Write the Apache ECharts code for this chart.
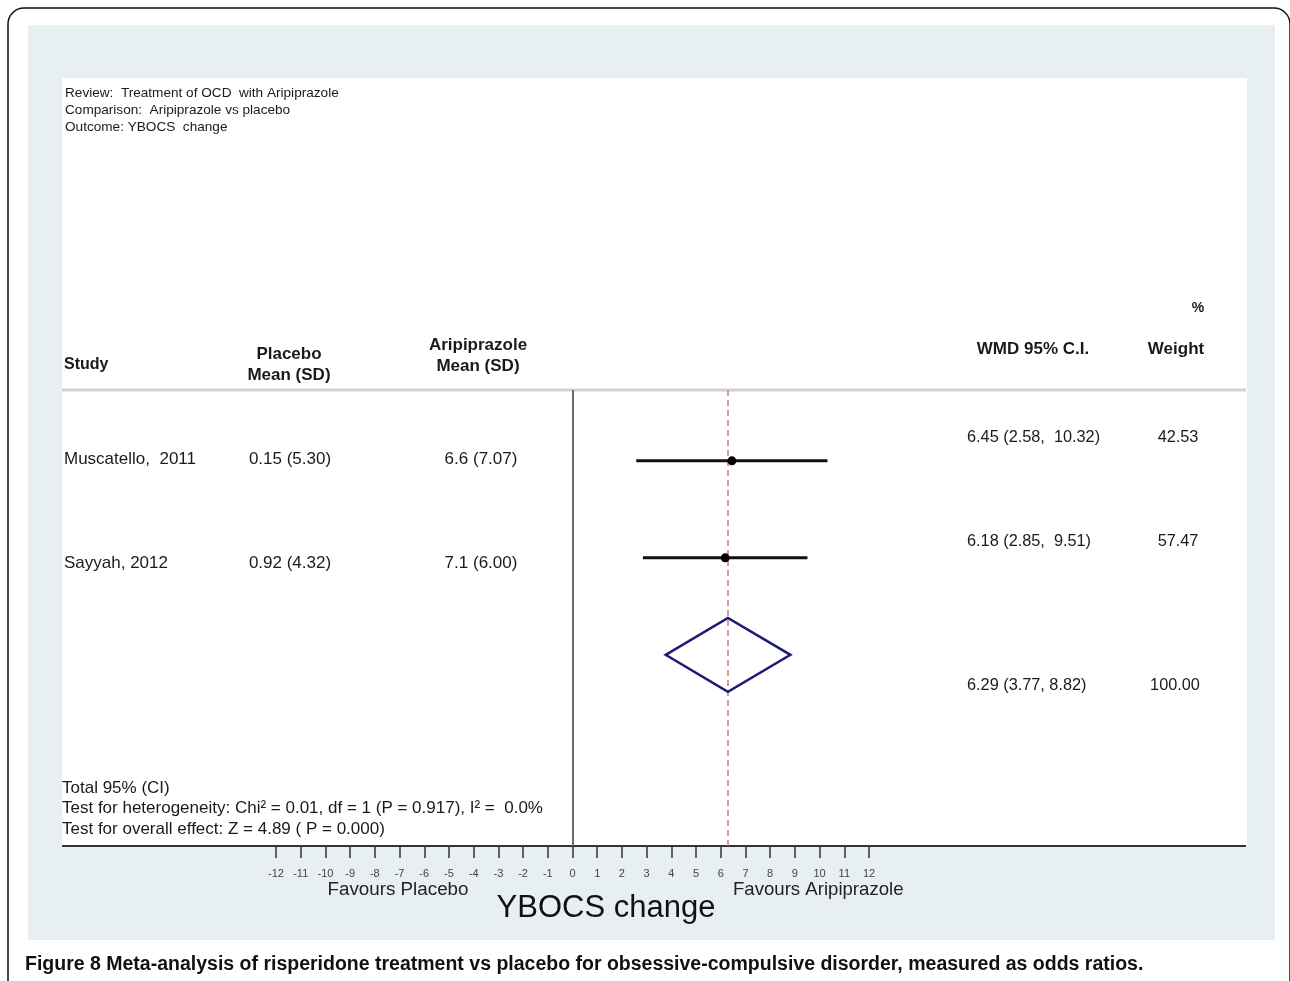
<!DOCTYPE html>
<html>
<head>
<meta charset="utf-8">
<script src="https://cdn.jsdelivr.net/npm/echarts@6/dist/echarts.min.js"></script>
<style>html,body{margin:0;padding:0;background:#fff}#c{width:1290px;height:981px}</style>
</head>
<body>
<div id="c"></div>
<script>
// ---- data ----
const reviewLines = ['Review:  Treatment of OCD  with Aripiprazole', 'Comparison:  Aripiprazole vs placebo', 'Outcome: YBOCS  change'];
const studies = ['Muscatello,  2011', 'Sayyah, 2012'];
const placeboMeanSD = ['0.15 (5.30)', '0.92 (4.32)'];
const aripMeanSD = ['6.6 (7.07)', '7.1 (6.00)'];
const wmd = [6.45, 6.18];
const ciLow = [2.58, 2.85];
const ciHigh = [10.32, 9.51];
const weights = ['42.53', '57.47'];
const pooledWmd = 6.29, pooledLow = 3.77, pooledHigh = 8.82, pooledWeight = '100.00';
const xTickMin = -12, xTickMax = 12;
const footLines = ['Total 95% (CI)', 'Test for heterogeneity: Chi\u00b2 = 0.01, df = 1 (P = 0.917), I\u00b2 =  0.0%', 'Test for overall effect: Z = 4.89 ( P = 0.000)'];
const caption = ['Figure 8', ' Meta-analysis of risperidone treatment vs placebo for obsessive-compulsive disorder, measured as odds ratios.'];

// layout offsets (pixels) of the text columns relative to each row's mark
const nameOffset = [-2, 5];
const ciTextOffset = [-23, -16];

const FONT = '"Liberation Sans", Arial, sans-serif';
const chart = echarts.init(document.getElementById('c'), null, {renderer: 'canvas'});

const ciData = studies.map((s, i) => [i + 1, ciLow[i], wmd[i], ciHigh[i]]);
const pooledRow = studies.length + 1;
const pooledData = [[pooledRow, pooledLow, pooledWmd, pooledHigh]];

const option = {
  animation: false,
  grid: {left: 276, right: 421, top: 390, bottom: 135},
  xAxis: {
    type: 'value', min: xTickMin, max: xTickMax, interval: 1,
    axisLine: {show: false},
    axisTick: {show: true, length: 12, lineStyle: {color: '#333', width: 1.5}},
    axisLabel: {fontSize: 11, color: '#444', margin: 22, fontFamily: FONT},
    splitLine: {show: false}
  },
  yAxis: {type: 'value', min: 0.27, max: 4.97, inverse: true, show: false},
  series: [
    {
      type: 'custom', data: ciData, encode: {x: [1, 2, 3], y: 0}, z: 5,
      renderItem: function (params, api) {
        const row = api.value(0);
        const a = api.coord([api.value(1), row]);
        const b = api.coord([api.value(3), row]);
        const c = api.coord([api.value(2), row]);
        return {type: 'group', children: [
          {type: 'line', shape: {x1: a[0], y1: a[1], x2: b[0], y2: b[1]}, style: {stroke: '#111', lineWidth: 3}},
          {type: 'circle', shape: {cx: c[0], cy: c[1], r: 4.5}, style: {fill: '#000'}}
        ]};
      },
      markLine: {
        silent: true, symbol: 'none', label: {show: false},
        lineStyle: {color: '#6e6e6e', width: 2, type: 'solid'},
        data: [{xAxis: 0}]
      }
    },
    {
      type: 'custom', data: pooledData, encode: {x: [1, 2, 3], y: 0}, z: 5,
      renderItem: function (params, api) {
        const row = api.value(0);
        const l = api.coord([api.value(1), row]);
        const r = api.coord([api.value(3), row]);
        const m = api.coord([api.value(2), row]);
        const h = 37;
        return {type: 'polygon', shape: {points: [[l[0], l[1]], [m[0], m[1] - h], [r[0], r[1]], [m[0], m[1] + h]]},
          style: {fill: 'none', stroke: '#1c1c78', lineWidth: 2.5}};
      },
      markLine: {
        silent: true, symbol: 'none', label: {show: false},
        lineStyle: {color: '#c97a7a', width: 1.5, type: [6, 4]},
        data: [{xAxis: pooledWmd}]
      }
    }
  ]
};
chart.setOption(option);

function rowY(r) { return chart.convertToPixel({gridIndex: 0}, [0, r])[1]; }
function txt(x, y, s, opt) {
  opt = opt || {};
  return {type: 'text', x: x, y: y, z: 10, silent: true, style: Object.assign({
    text: s, fontFamily: FONT, fontSize: 17, fill: '#1a1a1a',
    align: 'left', verticalAlign: 'middle'
  }, opt)};
}

const g = [];
// backgrounds
g.push({type: 'rect', z: -10, shape: {x: 8, y: 8, width: 1282, height: 1000, r: 16}, style: {fill: '#fff', stroke: '#111', lineWidth: 1.5}});
g.push({type: 'rect', z: -9, shape: {x: 28, y: 25, width: 1247, height: 915}, style: {fill: '#e7eff2'}});
g.push({type: 'rect', z: -8, shape: {x: 62, y: 78, width: 1185, height: 768}, style: {fill: '#fff'}});
// header rule and axis line
g.push({type: 'line', z: 3, shape: {x1: 62, y1: 390, x2: 1246, y2: 390}, style: {stroke: '#d2d2d2', lineWidth: 3}});
g.push({type: 'line', z: 3, shape: {x1: 62, y1: 846, x2: 1246, y2: 846}, style: {stroke: '#333', lineWidth: 2}});
// review text
reviewLines.forEach((s, i) => g.push(txt(65, 93 + i * 17, s, {fontSize: 13.6})));
// column headers
const hb = {fontWeight: 'bold', fontSize: 17};
g.push(txt(64, 365, 'Study', Object.assign({}, hb, {fontSize: 16})));
g.push(txt(289, 354, 'Placebo', Object.assign({align: 'center'}, hb)));
g.push(txt(289, 375, 'Mean (SD)', Object.assign({align: 'center'}, hb)));
g.push(txt(478, 345, 'Aripiprazole', Object.assign({align: 'center'}, hb)));
g.push(txt(478, 366, 'Mean (SD)', Object.assign({align: 'center'}, hb)));
g.push(txt(1033, 349, 'WMD 95% C.I.', Object.assign({align: 'center'}, hb)));
g.push(txt(1198, 308, '%', Object.assign({align: 'center'}, hb, {fontSize: 14})));
g.push(txt(1176, 349, 'Weight', Object.assign({align: 'center'}, hb)));
// study rows
studies.forEach((s, i) => {
  const y = rowY(i + 1);
  g.push(txt(64, y + nameOffset[i], s));
  g.push(txt(290, y + nameOffset[i], placeboMeanSD[i], {align: 'center'}));
  g.push(txt(481, y + nameOffset[i], aripMeanSD[i], {align: 'center'}));
  g.push(txt(967, y + ciTextOffset[i], wmd[i].toFixed(2) + ' (' + ciLow[i].toFixed(2) + ',  ' + ciHigh[i].toFixed(2) + ')', {fontSize: 16.3}));
  g.push(txt(1178, y + ciTextOffset[i], weights[i], {align: 'center', fontSize: 16.3}));
});
const py = rowY(pooledRow);
g.push(txt(967, py + 31, pooledWmd.toFixed(2) + ' (' + pooledLow.toFixed(2) + ', ' + pooledHigh.toFixed(2) + ')', {fontSize: 16.3}));
g.push(txt(1175, py + 31, pooledWeight, {align: 'center', fontSize: 16.3}));
// footer text
footLines.forEach((s, i) => g.push(txt(62, 788 + i * 20.5, s)));
// axis titles
g.push(txt(398, 890, 'Favours Placebo', {align: 'center', fontSize: 18.8, fill: '#222'}));
g.push(txt(733, 890, 'Favours Aripiprazole', {fontSize: 18.6, fill: '#222'}));
g.push(txt(606, 908, 'YBOCS change', {align: 'center', fontSize: 31, fill: '#111'}));
// caption
g.push({type: 'text', x: 25, y: 965, z: 10, silent: true, style: {
  text: '{b|' + caption[0] + '}{n|' + caption[1] + '}', verticalAlign: 'middle',
  rich: {
    b: {fontFamily: FONT, fontWeight: 'bold', fontSize: 19.5, fill: '#111'},
    n: {fontFamily: FONT, fontWeight: 'bold', fontSize: 19.5, fill: '#111'}
  }
}});
chart.setOption({graphic: g});
</script>
</body>
</html>
